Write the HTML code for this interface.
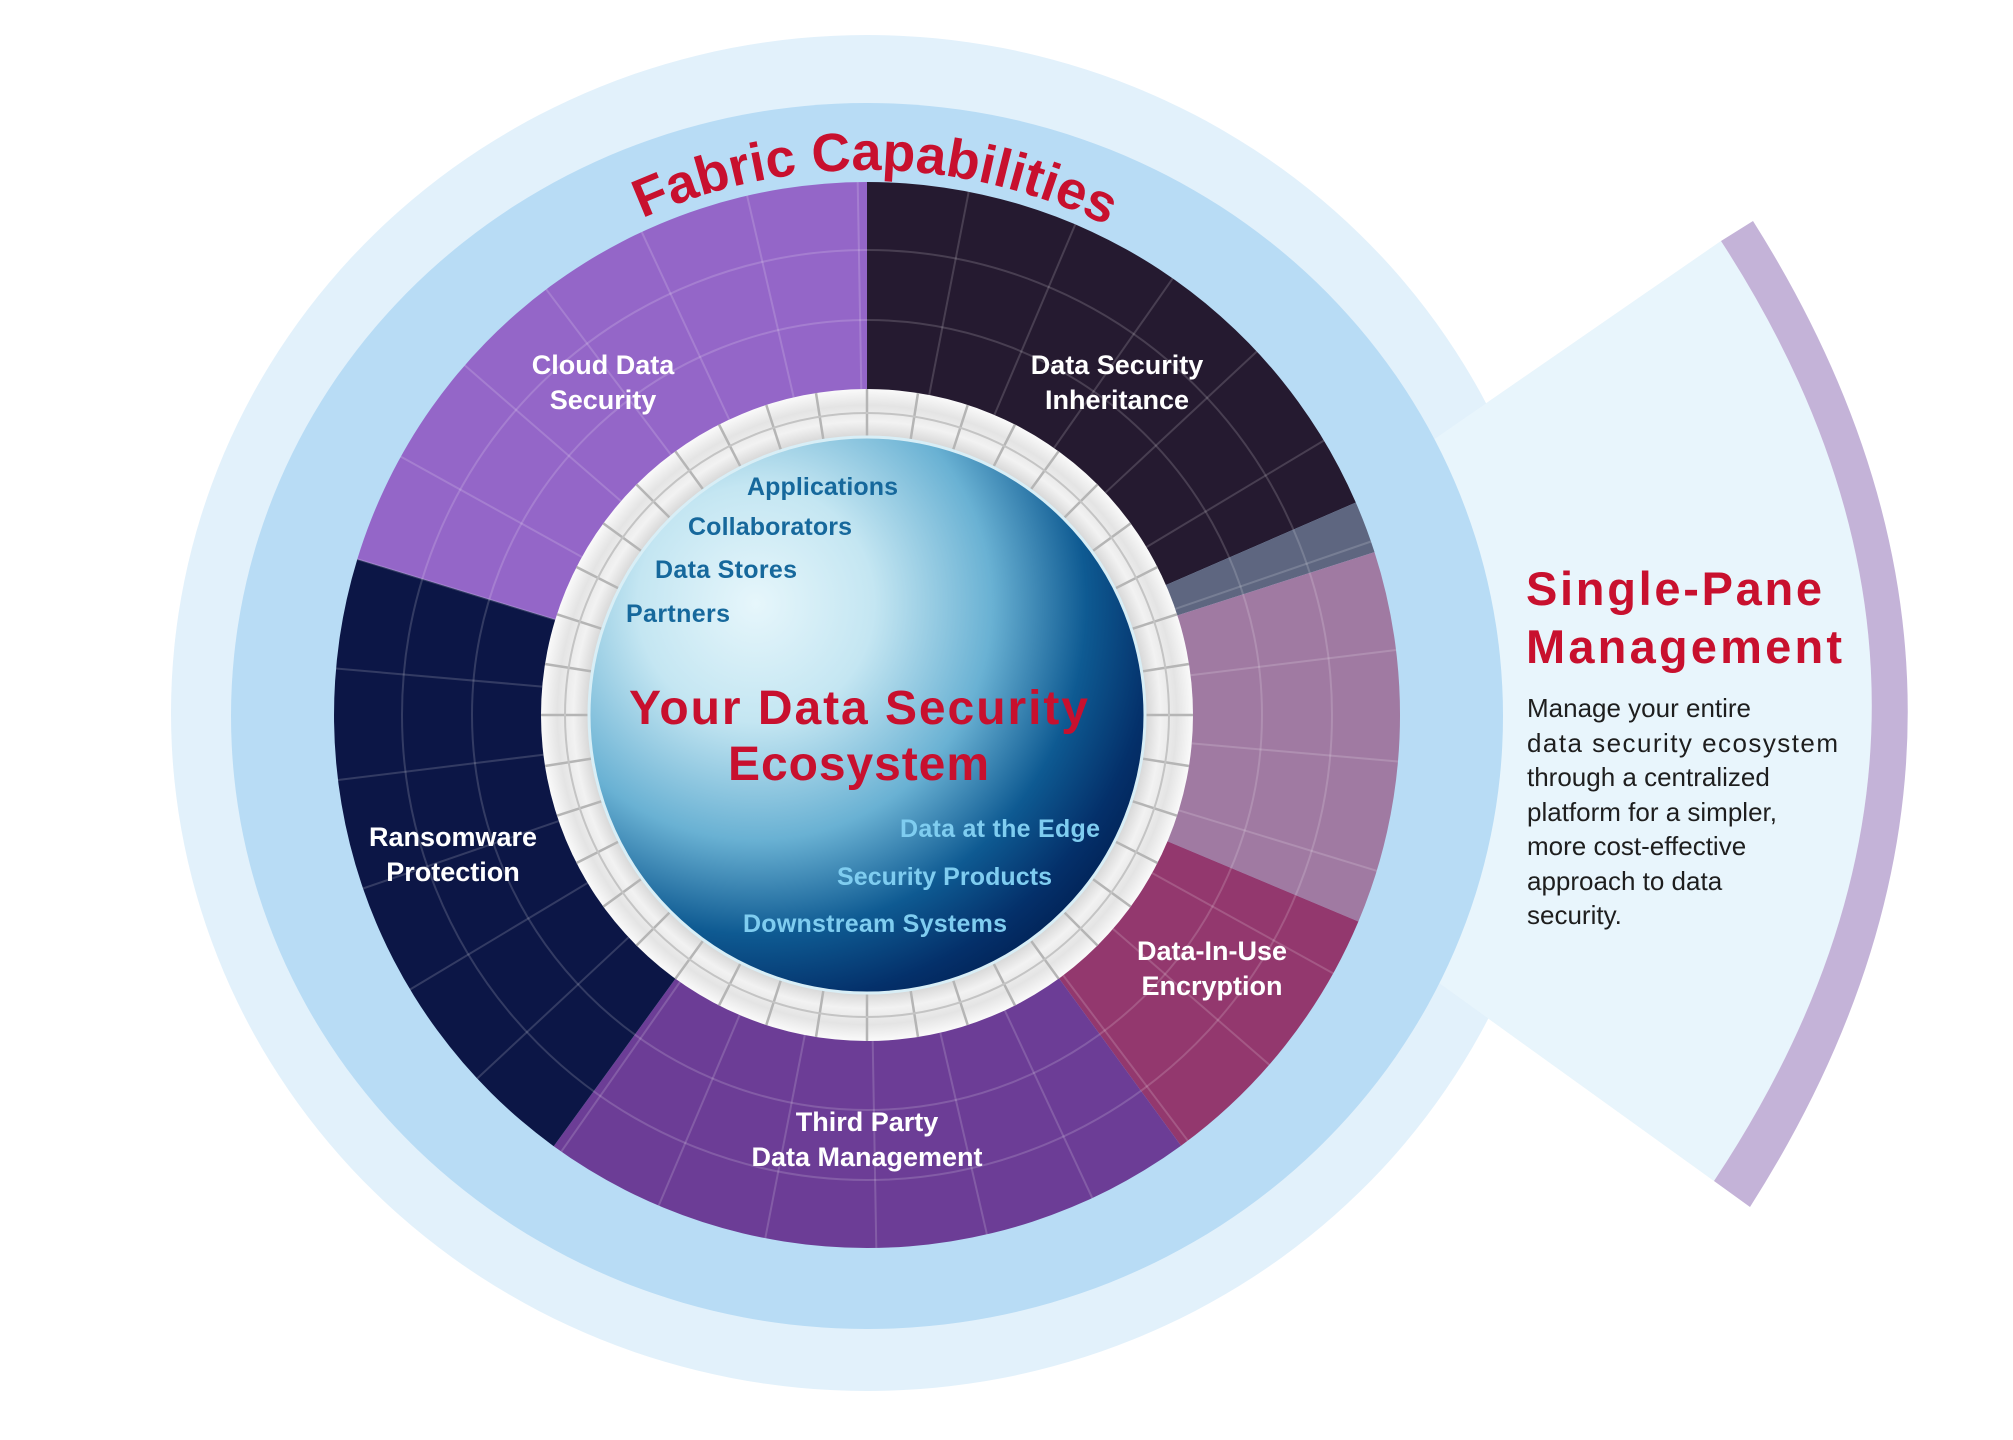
<!DOCTYPE html>
<html><head><meta charset="utf-8"><style>
html,body{margin:0;padding:0;background:#fff;}
svg{display:block;}
text{font-family:"Liberation Sans",sans-serif;}
</style></head><body>
<svg id="s" width="2013" height="1440" viewBox="0 0 2013 1440" xmlns="http://www.w3.org/2000/svg">
<defs>
<radialGradient id="sph" cx="0.3" cy="0.3" r="0.85">
<stop offset="0" stop-color="#e6f6fb"/>
<stop offset="0.25" stop-color="#c4e6f2"/>
<stop offset="0.5" stop-color="#69b1d3"/>
<stop offset="0.7" stop-color="#0e5a92"/>
<stop offset="0.85" stop-color="#04306a"/>
<stop offset="1" stop-color="#001a4a"/>
</radialGradient>
<radialGradient id="ring" cx="0.5" cy="0.5" r="0.5">
<stop offset="0.84" stop-color="#cfcfcf"/>
<stop offset="0.9" stop-color="#f2f2f2"/>
<stop offset="0.95" stop-color="#e4e4e4"/>
<stop offset="1" stop-color="#fafafa"/>
</radialGradient>
<path id="arcT" d="M 322,715 A 545,545 0 0 1 1412,715"/>
</defs>
<ellipse cx="867" cy="713" rx="696" ry="678" fill="#e2f1fb"/>
<path d="M1100,670 L1721,241 Q2026,711 1714,1181 L1100,739 Z" fill="#e3f2fb"/>
<path d="M1100,670 L1721,241 Q2026,711 1714,1181 L1100,739 Z" fill="#eef8fd" opacity="0.5"/>
<path d="M1721,241 Q2026,711 1714,1181 L1750,1207 Q2064,714 1753,221 Z" fill="#c4b3d8"/>
<ellipse cx="867" cy="716" rx="636" ry="613" fill="#b8dcf5"/>
<g id="segs"></g>
<g id="grid" stroke="#ffffff" stroke-opacity="0.16" stroke-width="2" fill="none"></g>
<circle cx="867" cy="715" r="326" fill="url(#ring)"/>
<g id="ticks" stroke="#b5b5b5" stroke-width="2.5"></g>
<circle cx="867" cy="715" r="302" fill="none" stroke="#c4c4c4" stroke-width="2"/>
<circle cx="867" cy="715" r="278" fill="url(#sph)"/>
<circle cx="867" cy="715" r="278" fill="none" stroke="#d8eef6" stroke-width="3"/>

<text font-size="54" font-weight="bold" fill="#c8102e"><textPath href="#arcT" startOffset="50.5%" text-anchor="middle">Fabric Capabilities</textPath></text>

<g font-size="27" font-weight="bold" fill="#ffffff" text-anchor="middle">
<text x="603" y="374">Cloud Data</text><text x="603" y="409">Security</text>
<text x="1117" y="374">Data Security</text><text x="1117" y="409">Inheritance</text>
<text x="453" y="846">Ransomware</text><text x="453" y="881">Protection</text>
<text x="1212" y="960">Data-In-Use</text><text x="1212" y="995">Encryption</text>
<text x="867" y="1131">Third Party</text><text x="867" y="1166">Data Management</text>
</g>
<g font-size="25" font-weight="bold" fill="#16689c">
<text x="747" y="495" textLength="151">Applications</text>
<text x="688" y="535" textLength="164">Collaborators</text>
<text x="655" y="578" textLength="142">Data Stores</text>
<text x="626" y="622" textLength="104">Partners</text>
</g>
<g font-size="25" font-weight="bold" fill="#7fcdf0">
<text x="900" y="837" textLength="200">Data at the Edge</text>
<text x="837" y="885" textLength="215">Security Products</text>
<text x="743" y="932" textLength="264">Downstream Systems</text>
</g>
<g font-size="48" font-weight="bold" fill="#c8102e">
<text x="629" y="724" textLength="459">Your Data Security</text>
<text x="728" y="780" textLength="261">Ecosystem</text>
</g>
<g font-size="47" font-weight="bold" fill="#c8102e">
<text x="1526" y="605" textLength="296">Single-Pane</text>
<text x="1526" y="663" textLength="316">Management</text>
</g>
<g font-size="26" fill="#1e1e1e">
<text x="1527" y="717">Manage your entire</text>
<text x="1527" y="752" textLength="311">data security ecosystem</text>
<text x="1527" y="786">through a centralized</text>
<text x="1527" y="821">platform for a simpler,</text>
<text x="1527" y="855">more cost-effective</text>
<text x="1527" y="890">approach to data</text>
<text x="1527" y="924">security.</text>
</g>
</svg>
<script>
(function(){
var NS="http://www.w3.org/2000/svg",cx=867,cy=715;
function P(r,a){a=a*Math.PI/180;return [(cx+r*Math.cos(a)).toFixed(1),(cy+r*Math.sin(a)).toFixed(1)];}
function sec(r1,r2,a0,a1){var p0=P(r2,a0),p1=P(r2,a1),p2=P(r1,a1),p3=P(r1,a0),l=(a1-a0)>180?1:0;
return "M"+p0+" A"+r2+","+r2+" 0 "+l+" 1 "+p1+" L"+p2+" A"+r1+","+r1+" 0 "+l+" 0 "+p3+" Z";}
var segs=[[197,270,"#9466c8"],[270,336.5,"#251a30"],[336.5,342.2,"#5e6680"],[342.2,382.8,"#a07aa2"],[382.8,413.9,"#93386e"],[413.9,486,"#6c3d96"],[486,557,"#0c1646"]];
var g=document.getElementById("segs");
segs.forEach(function(s){var e=document.createElementNS(NS,"path");e.setAttribute("d",sec(320,533,s[0],s[1]));e.setAttribute("fill",s[2]);g.appendChild(e);});
var gr=document.getElementById("grid");
[395,465].forEach(function(r){var c=document.createElementNS(NS,"circle");c.setAttribute("cx",cx);c.setAttribute("cy",cy);c.setAttribute("r",r);gr.appendChild(c);});
for(var a=0;a<360;a+=12){var e=document.createElementNS(NS,"line");var p=P(326,a+5),q=P(533,a+5);e.setAttribute("x1",p[0]);e.setAttribute("y1",p[1]);e.setAttribute("x2",q[0]);e.setAttribute("y2",q[1]);gr.appendChild(e);}
var t=document.getElementById("ticks");
for(var a=0;a<360;a+=9){var e=document.createElementNS(NS,"line");var p=P(278,a),q=P(326,a);e.setAttribute("x1",p[0]);e.setAttribute("y1",p[1]);e.setAttribute("x2",q[0]);e.setAttribute("y2",q[1]);t.appendChild(e);}
})();
</script>
</body></html>
